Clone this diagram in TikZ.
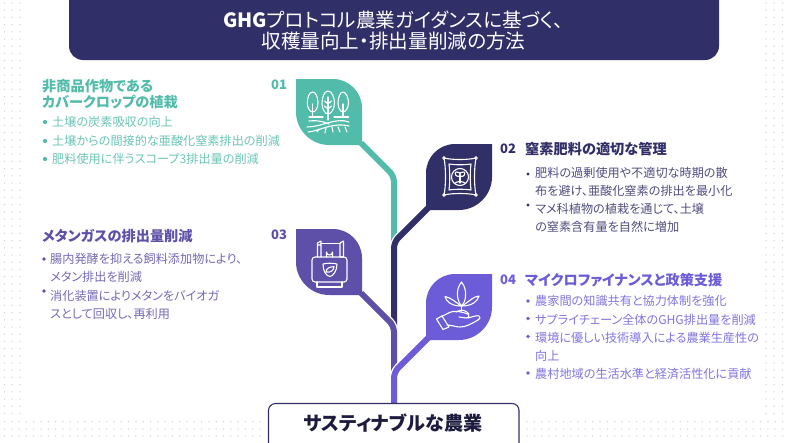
\documentclass[tikz,border=0pt]{standalone}
\usepackage{fontspec}
\setmainfont{Noto Sans CJK JP}[RawFeature={+palt}]
\definecolor{cteal}{HTML}{52BBAA}
\definecolor{cdark}{HTML}{312F67}
\definecolor{cpa}{HTML}{5E4FA8}
\definecolor{cpb}{HTML}{6C5CD8}
\definecolor{cdot}{HTML}{D3D3DF}
\tikzset{
  txt/.style={anchor=west,inner sep=0pt,font=\fontsize{12.15}{14}\selectfont},
  head/.style={anchor=west,inner sep=0pt,font=\fontsize{14.2}{16}\selectfont\bfseries},
  num/.style={anchor=west,inner sep=0pt,font=\fontsize{13}{15}\selectfont\bfseries},
  stem/.style={line width=6pt,rounded corners=6pt},
  casing/.style={line width=8.6pt,white,rounded corners=6pt},
  ico/.style={draw=white,line width=1.1pt,line cap=round,line join=round},
  icoF/.style={ico,fill=white}
}
\newcommand{\leafshape}{(0,0) -- (37,0) .. controls (53,0) and (66,13) .. (66,29) -- (66,66) -- (33,66) .. controls (15,66) and (0,51) .. (0,33) -- cycle}
\begin{document}
\begin{tikzpicture}[x=1pt,y=-1pt]
\useasboundingbox (0,0) rectangle (786,442);
\fill[white] (0,0) rectangle (786,442);
% dots
\foreach \x in {4.5,12,20,766,774,782.5}{\foreach \n in {0,...,57}{\fill[cdot] (\x,{3+7.2*\n}) circle (.75);}}
\foreach \y in {421.6,429,436}{\foreach \n in {0,...,35}{\fill[cdot] ({4.5+7.3*\n},\y) circle (.75);\fill[cdot] ({782.5-7.3*\n},\y) circle (.75);}}
% header
\fill[cdark] (69,-20) -- (719,-20) -- (719,46) arc[start angle=0,end angle=90,radius=14] -- (83,60) arc[start angle=90,end angle=180,radius=14] -- cycle;
\node[text=white,align=center,inner sep=0pt,font=\fontsize{19.6}{21}\selectfont] (title) at (393.5,31) {\textbf{GHG}プロトコル農業ガイダンスに基づく、\\収穫量向上・排出量削減の方法};
% stems
\coordinate (s1a) at (361,143); \coordinate (s1b) at (394,176); \coordinate (s1c) at (394,250);
\coordinate (s2a) at (428,208); \coordinate (s2b) at (394,242); \coordinate (s2c) at (394,335);
\coordinate (s3a) at (361,293); \coordinate (s3b) at (394,326); \coordinate (s3c) at (394,380);
\coordinate (s4a) at (428,338); \coordinate (s4b) at (394,372); \coordinate (s4c) at (394,410);
\draw[stem,cteal] (s1a) -- (s1b) -- (s1c);
\draw[casing] (s2a) -- (s2b) -- (s2c);
\draw[stem,cdark] (s2a) -- (s2b) -- (s2c);
\draw[casing] (s3a) -- (s3b) -- (s3c);
\draw[stem,cpa] (s3a) -- (s3b) -- (s3c);
\draw[casing] (s4a) -- (s4b) -- (s4c);
\draw[stem,cpb] (s4a) -- (s4b) -- (s4c);
% leaves
\fill[cteal,shift={(296,79)}] \leafshape;
\fill[cdark,shift={(492,144)},xscale=-1] \leafshape;
\fill[cpa,shift={(296,229)}] \leafshape;
\fill[cpb,shift={(492,274)},xscale=-1] \leafshape;
% bottom box
\draw[cdark,line width=1.1pt,fill=white,rounded corners=7pt] (268.5,403.5) rectangle (519,460);
\node[inner sep=0pt,text=cdark!60!black,font=\fontsize{19.1}{21}\selectfont\bfseries] (goal) at (393,423) {サスティナブルな農業};
% icon 1: trees and fields
\draw[ico] (312.7,92) .. controls (309,92) and (307.3,98) .. (307.3,103) .. controls (307.3,108) and (310,112) .. (312.7,112) .. controls (315.5,112) and (318,108) .. (318,103) .. controls (318,98) and (316,92) .. (312.7,92) -- cycle;
\draw[ico] (328,91) .. controls (324,91) and (322,98) .. (322,103) .. controls (322,109) and (325,114) .. (328,114) .. controls (331,114) and (334.5,109) .. (334.5,103) .. controls (334.5,98) and (332,91) .. (328,91) -- cycle;
\draw[ico] (343,92) .. controls (340,92) and (338,98) .. (338,103) .. controls (338,108) and (340.5,112) .. (343,112) .. controls (345.5,112) and (348.5,108) .. (348.5,103) .. controls (348.5,98) and (346,92) .. (343,92) -- cycle;
\draw[ico] (312.7,104) -- (312.7,117) (343,104) -- (343,117) (328,97) -- (328,120);
\draw[ico] (328,104) -- (324.5,101) (328,104) -- (331.5,101) (328,109) -- (324.5,106) (328,109) -- (331.5,106);
\draw[ico] (309,117) -- (323,117) (334,117) -- (348.5,117);
\draw[ico] (309,121) .. controls (318,120) and (325,122) .. (329,124);
\draw[ico] (307,127) .. controls (322,127) and (336,117) .. (349,122);
\draw[ico] (308,132) .. controls (320,131) and (332,122) .. (349,126);
\draw[ico] (317,132) -- (319,129) (325,133) -- (326,128) (333,132) -- (332,127) (340,132) -- (338,127) (347,132) -- (345,127);
% icon 2: sack
\draw[ico] (444,158) .. controls (452,160) and (468,160) .. (476,158) .. controls (474,168) and (474,186) .. (476,195) .. controls (468,193) and (452,193) .. (444,195) .. controls (446,186) and (446,168) .. (444,158) -- cycle;
\draw[ico] (449,164) .. controls (455,165) and (465,165) .. (471,164) .. controls (470,172) and (470,182) .. (471,190) .. controls (465,189) and (455,189) .. (449,190) .. controls (450,182) and (450,172) .. (449,164) -- cycle;
\draw[ico] (460,177) circle (8.5);
\draw[ico] (444,158) circle (1.3) (476,158) circle (1.3) (444,195) circle (1.3) (476,195) circle (1.3);
\draw[ico] (460,183) -- (460,176);
\draw[ico] (460,176) .. controls (456,178) and (454,173) .. (456,172) .. controls (458,171) and (461,173) .. (460,176);
\draw[ico] (460,176) .. controls (464,178) and (466,173) .. (464,172) .. controls (462,171) and (459,173) .. (460,176);
\draw[ico] (455,183) .. controls (458,181) and (462,181) .. (465,183);
% icon 3: tank
\draw[ico,rounded corners=3pt] (312,257) rectangle (347,282);
\draw[ico] (317.5,257) -- (317.5,243) -- (321,241) -- (321,257) (317.5,245) -- (321,245);
\draw[ico] (340,257) -- (340,243) -- (343.5,241) -- (343.5,257) -- cycle;
\draw[ico] (321,243.5) -- (340,243.5);
\draw[ico] (326.5,257) -- (326.5,252) arc[start angle=180,end angle=0,radius=3] -- (332.5,257);
\draw[ico] (317,282) -- (317,287) -- (342,287) -- (342,282);
\draw[ico] (323,264) .. controls (327,263) and (333,263) .. (337,264) .. controls (337,271) and (333,276) .. (330,276.5) .. controls (326,276) and (323,271) .. (323,264) -- cycle;
\draw[ico] (326,272) .. controls (326,268) and (330,267) .. (334,266.5) .. controls (334,270) and (331,273) .. (326,272) -- cycle;
% icon 4: plant and hand
\draw[ico] (461.5,282) .. controls (458,286) and (457,292) .. (457.5,296) .. controls (458,301) and (460,304) .. (461.5,306) .. controls (463,304) and (465.5,301) .. (465.5,296) .. controls (466,292) and (465,286) .. (461.5,282) -- cycle;
\draw[ico] (461,306) .. controls (457,303) and (450,297) .. (445,296.5) .. controls (446,301) and (451,306) .. (461,306) -- cycle;
\draw[ico] (462,306) .. controls (467,303) and (474,296) .. (479,296) .. controls (478,301) and (472,306) .. (462,306) -- cycle;
\draw[ico] (461.5,306) -- (461.5,311);
\draw[ico] (436.5,319) -- (442,316) -- (449,327) -- (443,329.5) -- cycle;
\draw[ico] (441,316.5) .. controls (446,315) and (449,312) .. (453,311.5) .. controls (458,311) and (462,312) .. (468,314) .. controls (470,315) and (469,318) .. (466,318) -- (459,317) (468,318) .. controls (472,317) and (477,315) .. (479,316) .. controls (481,317) and (480,319) .. (478,320) .. controls (471,324) and (466,327) .. (460,327) .. controls (456,327) and (451,325) .. (447,325);
\draw[ico] (456,312) .. controls (461,309) and (466,310) .. (469,314);
% numbers
\node[num,text=cteal] (n1) at (271,84.5) {01};
\node[num,text=cdark] (n2) at (500,149) {02};
\node[num,text=cpa] (n3) at (271,234.5) {03};
\node[num,text=cpb] (n4) at (500,280) {04};
% block 1
\node[head,text=cteal] (h1a) at (42,86) {非商品作物である};
\node[head,text=cteal] (h1b) at (42,102) {カバークロップの植栽};
\foreach \y in {122,141,159}{\fill[cteal] (45,\y) circle (2.1);}
\node[txt,text=cteal!85] (t1a) at (52,122) {土壌の炭素吸収の向上};
\node[txt,text=cteal!85] (t1b) at (52,141) {土壌からの間接的な亜酸化窒素排出の削減};
\node[txt,text=cteal!85] (t1c) at (52,159) {肥料使用に伴うスコープ3排出量の削減};
% block 2
\node[head,text=cdark] (h2) at (525,149) {窒素肥料の適切な管理};
\fill[cdark] (528,174) circle (1.7) (528,205) circle (1.7);
\node[txt,text=cdark!85] (t2a) at (535,173) {肥料の過剰使用や不適切な時期の散};
\node[txt,text=cdark!85] (t2b) at (535,191) {布を避け、亜酸化窒素の排出を最小化};
\node[txt,text=cdark!85] (t2c) at (535,209) {マメ科植物の植栽を通じて、土壌};
\node[txt,text=cdark!85] (t2d) at (535,227) {の窒素含有量を自然に増加};
% block 3
\node[head,text=cpa] (h3) at (42,236) {メタンガスの排出量削減};
\fill[cpa] (44,259) circle (1.9) (44,291) circle (1.9);
\node[txt,text=cpa!85] (t3a) at (50,259) {腸内発酵を抑える飼料添加物により、};
\node[txt,text=cpa!85] (t3b) at (50,277) {メタン排出を削減};
\node[txt,text=cpa!85] (t3c) at (50,296) {消化装置によりメタンをバイオガ};
\node[txt,text=cpa!85] (t3d) at (50,314) {スとして回収し、再利用};
% block 4
\node[head,text=cpb] (h4) at (525,280) {マイクロファイナンスと政策支援};
\fill[cpb] (528,301) circle (1.8) (528,318.5) circle (1.8) (528,336.5) circle (1.8) (528,373) circle (1.8);
\node[txt,text=cpb!85] (t4a) at (535,301) {農家間の知識共有と協力体制を強化};
\node[txt,text=cpb!85] (t4b) at (535,320) {サプライチェーン全体のGHG排出量を削減};
\node[txt,text=cpb!85] (t4c) at (535,338) {環境に優しい技術導入による農業生産性の};
\node[txt,text=cpb!85] (t4d) at (535,356) {向上};
\node[txt,text=cpb!85] (t4e) at (535,374) {農村地域の生活水準と経済活性化に貢献};
\end{tikzpicture}
\end{document}
